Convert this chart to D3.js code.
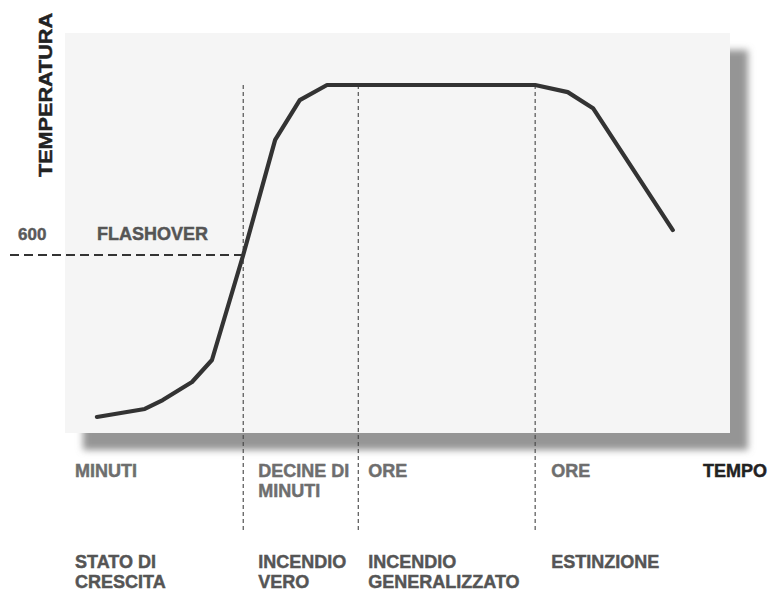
<!DOCTYPE html>
<html><head><meta charset="utf-8">
<script src="https://cdn.jsdelivr.net/npm/d3@7"></script>
<style>
html,body{margin:0;padding:0;background:#fff;}
svg{display:block;}
text{font-family:"Liberation Sans",Arial,sans-serif;font-weight:bold;stroke-width:0.45px;}
</style></head>
<body>
<svg id="c" width="776" height="592"></svg>
<script>
// Data (time in arbitrary units 0-100, temperature in °C)
const times = [4.8, 12.0, 14.7, 19.1, 22.1, 26.8, 31.6, 35.3, 39.4, 70.7, 75.6, 79.4, 91.4];
const temps = [54, 81, 111, 172, 246, 600, 988, 1122, 1173, 1173, 1149, 1095, 684];
const phaseBounds = [26.8, 44.1, 70.7];
const flashoverTemp = 600;
const durationLabels = [["MINUTI"], ["DECINE DI", "MINUTI"], ["ORE"], ["ORE"]];
const phaseLabels = [["STATO DI", "CRESCITA"], ["INCENDIO", "VERO"], ["INCENDIO", "GENERALIZZATO"], ["ESTINZIONE"]];
const phaseStarts = [0, 26.8, 44.1, 70.7];

const svg = d3.select("#c");
const panel = {x0: 65, y0: 33, x1: 730, y1: 433};
const x = d3.scaleLinear().domain([0, 100]).range([panel.x0, panel.x1]);
const y = d3.scaleLinear().domain([0, 600]).range([panel.y1, 255]);

const defs = svg.append("defs");
const f = defs.append("filter").attr("id","blur").attr("x","-10%").attr("y","-10%").attr("width","120%").attr("height","120%");
f.append("feGaussianBlur").attr("stdDeviation", 3.5);

// shadow
svg.append("rect").attr("x", panel.x0 + 18).attr("y", panel.y0 + 17)
  .attr("width", panel.x1 - panel.x0).attr("height", panel.y1 - panel.y0)
  .attr("fill", "#959595").attr("filter", "url(#blur)");
// panel
svg.append("rect").attr("x", panel.x0).attr("y", panel.y0)
  .attr("width", panel.x1 - panel.x0).attr("height", panel.y1 - panel.y0)
  .attr("fill", "#f5f5f5");

// vertical phase dividers
svg.selectAll("line.div").data(phaseBounds).join("line")
  .attr("class","div")
  .attr("x1", d => x(d)).attr("x2", d => x(d))
  .attr("y1", y(1173)).attr("y2", 533)
  .attr("stroke", "#444").attr("stroke-width", 1.1).attr("stroke-dasharray", "4,3");

// flashover dashed line
svg.append("line").attr("x1", 10).attr("x2", x(phaseBounds[0]))
  .attr("y1", y(flashoverTemp)).attr("y2", y(flashoverTemp))
  .attr("stroke", "#333").attr("stroke-width", 2).attr("stroke-dasharray", "9,5");

// curve
const pts = times.map((t, i) => [t, temps[i]]);
svg.append("path").datum(pts)
  .attr("d", d3.line().x(d => x(d[0])).y(d => y(d[1])))
  .attr("fill", "none").attr("stroke", "#333").attr("stroke-width", 4.2)
  .attr("stroke-linejoin", "round").attr("stroke-linecap", "round");

function label(xp, yp, size, color, s) {
  return svg.append("text").attr("x", xp).attr("y", yp).attr("font-size", size)
    .attr("fill", color).attr("stroke", color).text(s);
}

// y-axis label
svg.append("text").attr("transform", "translate(52,177) rotate(-90)")
  .attr("font-size", 18).attr("fill", "#222").attr("stroke", "#222")
  .attr("textLength", 164).attr("lengthAdjust", "spacingAndGlyphs")
  .text("TEMPERATURA");

label(18, 240, 17, "#5a5a5a", String(flashoverTemp));
label(97, 240, 18, "#555", "FLASHOVER");
label(703, 477, 18, "#222", "TEMPO");

const offs = [10, 15, 10, 16];
durationLabels.forEach((lines, i) => {
  const t = svg.append("text").attr("font-size", 18).attr("fill", "#6e6e6e").attr("stroke", "#6e6e6e");
  lines.forEach((s, j) => t.append("tspan").attr("x", x(phaseStarts[i]) + offs[i]).attr("y", 477 + j * 20).text(s));
});
phaseLabels.forEach((lines, i) => {
  const t = svg.append("text").attr("font-size", 18).attr("fill", "#555").attr("stroke", "#555");
  lines.forEach((s, j) => t.append("tspan").attr("x", x(phaseStarts[i]) + offs[i]).attr("y", 568 + j * 20).text(s));
});
</script>
</body></html>
